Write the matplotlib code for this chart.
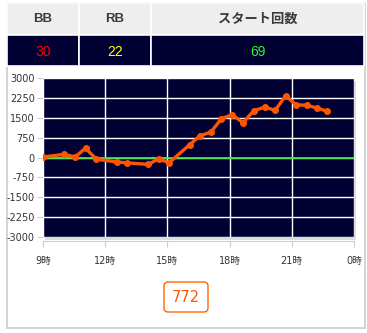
import matplotlib
matplotlib.use("Agg")
import matplotlib.pyplot as plt
from matplotlib.patches import Rectangle, FancyBboxPatch

W, H = 367, 333

# ---- data ----
header_labels = ["BB", "RB", "スタート回数"]
header_values = ["30", "22", "69"]
value_colors = ["#ff0000", "#ffff00", "#22ff22"]

hours = [9.0, 10.03, 10.55, 11.05, 11.57, 12.55, 13.05, 14.07, 14.58, 15.08,
         16.07, 16.57, 17.1, 17.6, 18.12, 18.65, 19.17, 19.7, 20.2, 20.7,
         21.2, 21.72, 22.2, 22.72]
values = [20, 120, 20, 350, -60, -170, -200, -260, -50, -200,
          480, 820, 960, 1460, 1620, 1310, 1770, 1900, 1780, 2330,
          1990, 1970, 1870, 1740]
x_ticks = [9, 12, 15, 18, 21, 24]
x_tick_labels = ["9時", "12時", "15時", "18時", "21時", "0時"]
y_ticks = [3000, 2250, 1500, 750, 0, -750, -1500, -2250, -3000]
total_label = "772"

FAM = ["DejaVu Sans", "Noto Sans CJK JP"]

fig = plt.figure(figsize=(W / 100, H / 100), dpi=100)
fig.patch.set_facecolor("white")


def fx(px):
    return px / W


def fy(py):
    return 1 - py / H


# outer frame
fig.add_artist(Rectangle((fx(7), fy(328)), fx(365) - fx(7), fy(3) - fy(328),
                         transform=fig.transFigure, facecolor="white",
                         edgecolor="#cccccc", lw=1.2, zorder=0))

# table
cols = [(7, 79), (79, 151), (151, 364)]
for (x0, x1), lab, val, vc in zip(cols, header_labels, header_values, value_colors):
    fig.add_artist(Rectangle((fx(x0), fy(35)), fx(x1) - fx(x0), fy(3) - fy(35),
                             transform=fig.transFigure, facecolor="#eeeeee",
                             edgecolor="white", lw=1.2, zorder=1))
    fig.add_artist(Rectangle((fx(x0), fy(66)), fx(x1) - fx(x0), fy(35) - fy(66),
                             transform=fig.transFigure, facecolor="#000033",
                             edgecolor="white", lw=1.2, zorder=1))
    cx = fx((x0 + x1) / 2)
    fig.text(cx, fy(19.5), lab, ha="center", va="center", fontsize=9.5,
             fontweight="bold", color="#3a3a3a",
             family=["Liberation Sans", "Noto Sans CJK JP"], zorder=2)
    fig.text(cx, fy(51.5), val, ha="center", va="center", fontsize=10,
             color=vc, family=["Liberation Sans"], zorder=2)

# plot area
L, R, T, B = 43, 354, 78, 237
# shadow
fig.add_artist(Rectangle((fx(L + 2), fy(B + 3)), fx(R) - fx(L), fy(T) - fy(B),
                         transform=fig.transFigure, facecolor="#dddddd",
                         edgecolor="none", zorder=1))
ax = fig.add_axes([fx(L), fy(B), fx(R) - fx(L), fy(T) - fy(B)], zorder=3)
ax.set_facecolor("#000033")
ax.set_xlim(9, 24)
ax.set_ylim(-3000, 3000)
ax.set_yticks(y_ticks)
ax.set_yticklabels([str(v) for v in y_ticks])
ax.set_xticks(x_ticks)
ax.set_xticklabels(x_tick_labels)
ax.grid(True, color="white", lw=1.0)
ax.set_axisbelow(True)
for s in ["top", "right", "left"]:
    ax.spines[s].set_visible(False)
ax.spines["bottom"].set_position(("outward", 3))
ax.spines["bottom"].set_color("#cccccc")
ax.tick_params(axis="y", length=4, width=0.8, color="#cccccc", pad=2,
               labelsize=7, labelcolor="#333333")
ax.tick_params(axis="x", length=4, width=0.8, color="#cccccc", pad=7,
               labelsize=7, labelcolor="#333333")
for t in ax.get_xticklabels() + ax.get_yticklabels():
    t.set_family(FAM)

ax.axhline(0, color="#44dd44", lw=1.3, zorder=2)
ax.plot(hours, values, color="#ff5500", lw=2.4, marker="o", markersize=4,
        zorder=4, solid_joinstyle="round")

# total box
fig.add_artist(FancyBboxPatch((fx(164), fy(312)), fx(208) - fx(164), fy(282) - fy(312),
                              boxstyle="round,pad=0,rounding_size=0.012",
                              transform=fig.transFigure, facecolor="white",
                              edgecolor="#ff6600", lw=1.0, zorder=2))
fig.text(fx(186), fy(297), total_label, ha="center", va="center", fontsize=10.5,
         color="#ff5500", family=["DejaVu Sans"], zorder=3)

fig.savefig("out.png", dpi=100)
